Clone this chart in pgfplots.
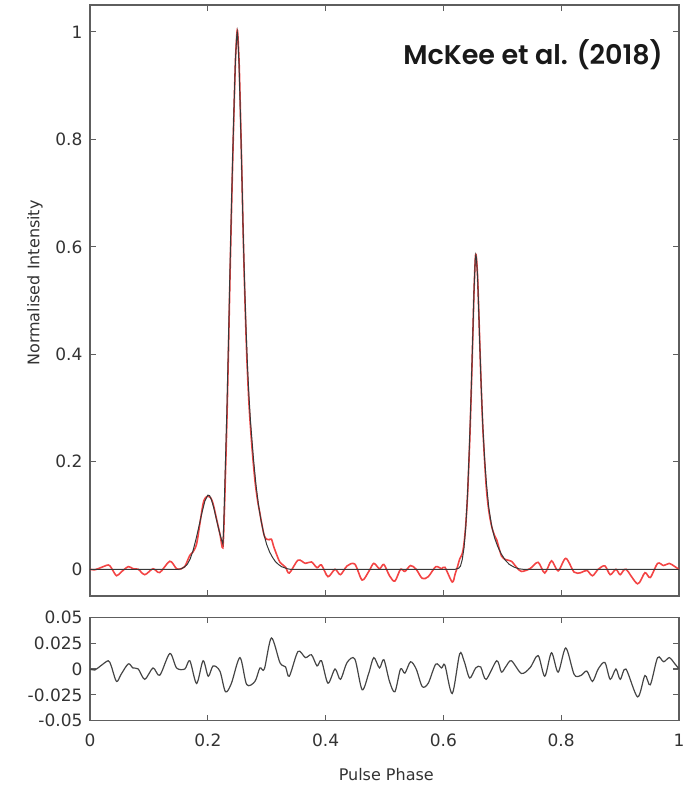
\documentclass[border=0pt]{standalone}
\usepackage{fontspec}
\setmainfont{DejaVu Sans}
\newfontfamily\titlefont{Poppins SemiBold}
\usepackage{pgfplots}
\pgfplotsset{compat=1.18}
\definecolor{axgray}{HTML}{5E5E5E}
\definecolor{txt}{HTML}{333333}
\definecolor{datred}{HTML}{F23030}
\definecolor{modgray}{HTML}{383838}
\definecolor{resgray}{HTML}{454545}
\pgfplotsset{
  common/.style={
    scale only axis, width=589pt, xmin=0, xmax=1,
    axis line style={axgray, line width=1.1pt},
    tick style={axgray, line width=1.1pt},
    major tick length=6pt, tick align=inside, scaled ticks=false,
    xtick={0,0.2,0.4,0.6,0.8,1},
    ticklabel style={font=\fontsize{17}{20}\selectfont, text=txt},
    xticklabel style={yshift=-10pt},
    yticklabel style={xshift=-4pt},
  }
}
\begin{document}
\begin{tikzpicture}
\path (-90pt,-189pt) rectangle (595pt,596pt);
\begin{axis}[common, name=main, at={(0pt,0pt)}, anchor=south west,
  height=591pt, ymin=-0.0497, ymax=1.05,
  ytick={0,0.2,0.4,0.6,0.8,1}, yticklabels={0,0.2,0.4,0.6,0.8,1},
  xticklabels={},
  ylabel={Normalised Intensity},
  ylabel style={at={(axis description cs:-0.0934,0.5296)}, anchor=center, font=\fontsize{16}{19}\selectfont, text=txt},
]
\addplot[datred, line width=1.6pt, opacity=0.9, smooth, tension=0.5] coordinates {
(0.000,0.000)(0.008,-0.001)(0.018,0.003)(0.031,0.008)(0.036,0.003)(0.045,-0.012)(0.053,-0.005)(0.065,0.005)(0.073,0.001)(0.082,0.000)(0.093,-0.010)(0.107,0.001)(0.1185,-0.006)(0.1355,0.015)(0.147,0.001)(0.155,0.001)(0.161,0.005)(0.1695,0.026)(0.175,0.0325)(0.181,0.047)(0.186,0.081)(0.192,0.122)(0.196,0.133)(0.2007,0.136)(0.205,0.133)(0.209,0.122)(0.215,0.093)(0.2205,0.066)(0.2255,0.040)(0.228,0.1025)(0.230,0.178)(0.2325,0.280)(0.235,0.402)(0.2375,0.534)(0.240,0.656)(0.2425,0.770)(0.245,0.8745)(0.247,0.948)(0.249,0.991)(0.250,1.003)(0.251,0.995)(0.253,0.948)(0.2546,0.887)(0.2575,0.754)(0.260,0.629)(0.2625,0.523)(0.266,0.402)(0.270,0.306)(0.275,0.227)(0.280,0.1655)(0.2845,0.128)(0.2885,0.104)(0.292,0.0825)(0.296,0.062)(0.300,0.056)(0.304,0.055)(0.308,0.056)(0.312,0.042)(0.316,0.030)(0.3226,0.013)(0.332,0.004)(0.3384,-0.007)(0.3532,0.017)(0.3657,0.011)(0.376,0.0137)(0.3855,0.003)(0.393,0.008)(0.404,-0.0137)(0.416,0)(0.4252,-0.010)(0.4365,0.0063)(0.4496,0.0097)(0.462,-0.020)(0.4733,-0.004)(0.4818,0.011)(0.4915,0.001)(0.4989,0.009)(0.5085,-0.012)(0.5176,-0.022)(0.5272,0)(0.5346,-0.004)(0.5442,0.007)(0.5538,0)(0.5641,-0.017)(0.5743,-0.0137)(0.587,0.0047)(0.5969,0.001)(0.6026,0.0037)(0.615,-0.0237)(0.620,-0.0085)(0.624,0.005)(0.6276,0.019)(0.632,0.029)(0.635,0.048)(0.638,0.083)(0.641,0.138)(0.6446,0.236)(0.647,0.319)(0.650,0.4365)(0.652,0.518)(0.654,0.575)(0.6548,0.586)(0.656,0.581)(0.658,0.546)(0.660,0.482)(0.6633,0.369)(0.667,0.262)(0.6725,0.157)(0.677,0.1095)(0.682,0.0795)(0.687,0.0625)(0.6905,0.055)(0.6985,0.025)(0.706,0.018)(0.7154,0.015)(0.724,0.004)(0.7324,-0.004)(0.7472,0.0013)(0.7608,0.013)(0.7721,-0.007)(0.7835,0.0157)(0.7948,-0.003)(0.8078,0.0203)(0.822,-0.0053)(0.8333,-0.0063)(0.8435,-0.002)(0.8531,-0.012)(0.8628,0)(0.8741,0.0063)(0.8832,-0.010)(0.8929,0)(0.9002,-0.010)(0.9099,0)(0.9297,-0.027)(0.9422,-0.0063)(0.9512,-0.0153)(0.9637,0.011)(0.9739,0.007)(0.9835,0.011)(0.992,0.0057)(1.000,0)
};
\addplot[modgray, line width=1.0pt] coordinates {
(0,0)(0.150,0)(0.155,0.001)(0.160,0.004)(0.165,0.009)(0.170,0.019)(0.175,0.035)(0.180,0.056)(0.185,0.080)(0.190,0.105)(0.195,0.127)(0.200,0.138)(0.203,0.137)(0.206,0.130)(0.210,0.115)(0.214,0.096)(0.218,0.077)(0.222,0.060)(0.2257,0.047)(0.227,0.08)(0.228,0.12)(0.230,0.20)(0.2325,0.30)(0.235,0.42)(0.2375,0.55)(0.240,0.67)(0.2425,0.78)(0.245,0.88)(0.247,0.95)(0.249,0.99)(0.250,1.0)(0.251,0.99)(0.253,0.94)(0.255,0.86)(0.2575,0.75)(0.260,0.63)(0.2625,0.53)(0.265,0.445)(0.2675,0.375)(0.270,0.32)(0.2725,0.275)(0.275,0.24)(0.278,0.20)(0.282,0.155)(0.286,0.12)(0.290,0.093)(0.295,0.066)(0.300,0.046)(0.305,0.032)(0.310,0.022)(0.315,0.014)(0.320,0.009)(0.325,0.005)(0.330,0.003)(0.335,0.001)(0.340,0)(0.620,0)(0.626,0.002)(0.629,0.006)(0.632,0.018)(0.635,0.040)(0.638,0.080)(0.641,0.140)(0.644,0.225)(0.647,0.325)(0.650,0.440)(0.652,0.520)(0.654,0.575)(0.655,0.585)(0.656,0.580)(0.658,0.545)(0.660,0.480)(0.662,0.410)(0.664,0.345)(0.667,0.265)(0.670,0.205)(0.673,0.160)(0.677,0.115)(0.682,0.080)(0.687,0.058)(0.692,0.043)(0.698,0.029)(0.705,0.017)(0.712,0.009)(0.720,0.004)(0.728,0.001)(0.735,0)(1.0,0)
};
\node[anchor=east, inner sep=0pt, font=\titlefont\fontsize{27}{31}\selectfont, text=black!90] at (rel axis cs:0.9728,0.9154) {McKee et al. (2018)};
\end{axis}
\begin{axis}[common, at={(0pt,-124.7pt)}, anchor=south west,
  height=103.4pt, ymin=-0.05, ymax=0.05,
  ytick={-0.05,-0.025,0,0.025,0.05}, yticklabels={-0.05,-0.025,0,0.025,0.05},
  xticklabels={0,0.2,0.4,0.6,0.8,1},
  xlabel={Pulse Phase},
  xlabel style={at={(axis description cs:0.503,-0.525)}, anchor=center, font=\fontsize{16}{19}\selectfont, text=txt},
]
\addplot[resgray, line width=1.2pt, smooth, tension=0.5] coordinates {
(0.000,0.000)(0.008,-0.001)(0.018,0.003)(0.031,0.008)(0.036,0.003)(0.045,-0.012)(0.053,-0.005)(0.065,0.005)(0.073,0.001)(0.082,0.000)(0.093,-0.010)(0.107,0.001)(0.1185,-0.006)(0.1355,0.015)(0.147,0.001)(0.161,0.000)(0.1695,0.008)(0.181,-0.014)(0.192,0.008)(0.2007,-0.007)(0.209,0.003)(0.2205,-0.002)(0.230,-0.022)(0.240,-0.014)(0.2546,0.011)(0.266,-0.015)(0.280,-0.012)(0.2885,0.001)(0.296,0.000)(0.308,0.030)(0.3226,0.006)(0.332,0.002)(0.3384,-0.007)(0.3532,0.017)(0.3657,0.011)(0.376,0.0137)(0.3855,0.003)(0.393,0.008)(0.404,-0.0137)(0.416,0)(0.4252,-0.010)(0.4365,0.0063)(0.4496,0.0097)(0.462,-0.020)(0.4733,-0.004)(0.4818,0.011)(0.4915,0.001)(0.4989,0.009)(0.5085,-0.012)(0.5176,-0.022)(0.5272,0)(0.5346,-0.004)(0.5442,0.007)(0.5538,0)(0.5641,-0.017)(0.5743,-0.0137)(0.587,0.0047)(0.5969,0.001)(0.6026,0.0037)(0.615,-0.0237)(0.6276,0.0147)(0.635,0.008)(0.6446,-0.0087)(0.6548,0.001)(0.6633,0.002)(0.6725,-0.010)(0.6905,0.008)(0.6985,-0.003)(0.706,0.0023)(0.7154,0.008)(0.7324,-0.0043)(0.7472,0.0013)(0.7608,0.013)(0.7721,-0.007)(0.7835,0.0157)(0.7948,-0.003)(0.8078,0.0203)(0.822,-0.0053)(0.8333,-0.0063)(0.8435,-0.002)(0.8531,-0.012)(0.8628,0)(0.8741,0.0063)(0.8832,-0.010)(0.8929,0)(0.9002,-0.010)(0.9099,0)(0.9297,-0.027)(0.9422,-0.0063)(0.9512,-0.0153)(0.9637,0.011)(0.9739,0.007)(0.9835,0.011)(0.992,0.0057)(1.000,0)
};
\end{axis}
\end{tikzpicture}
\end{document}
